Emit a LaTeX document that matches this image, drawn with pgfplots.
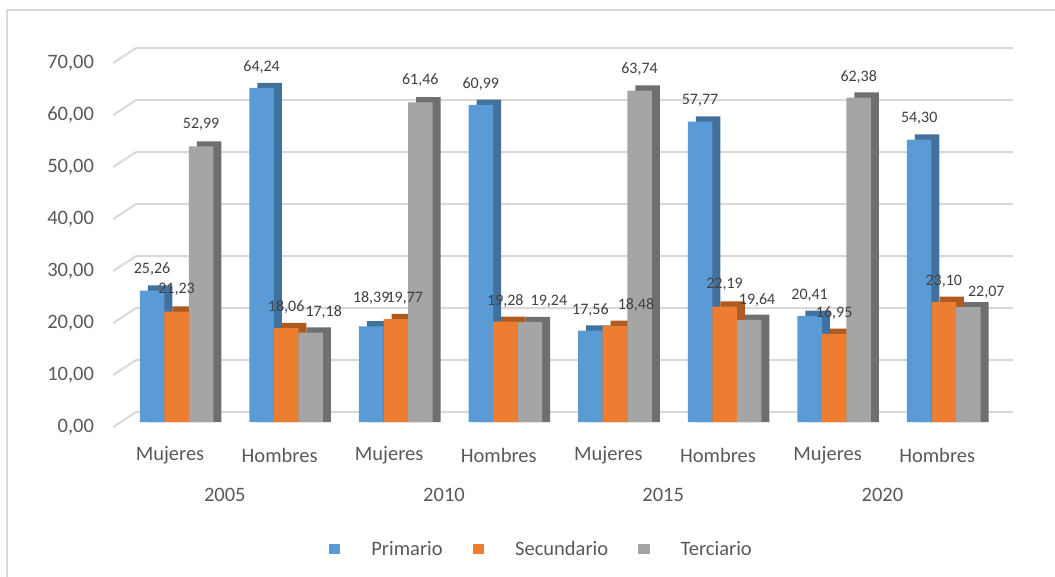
\documentclass[border=0pt]{standalone}
\usepackage{pgfplots}
\pgfplotsset{compat=1.18}
\usepackage{pgfplotstable}
\usepackage{fontspec}
\setmainfont{Carlito}
\definecolor{cP}{HTML}{5B9BD5}
\definecolor{cPd}{HTML}{41719C}
\definecolor{cS}{HTML}{ED7D31}
\definecolor{cSd}{HTML}{AE5A21}
\definecolor{cT}{HTML}{A5A5A5}
\definecolor{cTd}{HTML}{6F6F6F}
\definecolor{gridc}{HTML}{D9D9D9}
\definecolor{txt}{HTML}{595959}
\definecolor{lab}{HTML}{404040}

% values, plus label offsets (bp) for each series
\pgfplotstableread{
x P S T dxP dyP dxS dyS dxT dyT
0 25.26 21.23 52.99 0 22 0 22 0 22
1 64.24 18.06 17.18 0 21 0 21 13 21
2 18.39 19.77 61.46 0 28 9 21 0 22
3 60.99 19.28 19.24 0 21 0 21 19 21
4 17.56 18.48 63.74 0 21 21 21 0 21
5 57.77 22.19 19.64 0 21 0 22 8 20
6 20.41 16.95 62.38 0 21 0 21 0 21
7 54.30 23.10 22.07 0 21 0 21 18 15
}\datatable

\pgfplotsset{
  myleg/.style={legend image code/.code={\fill[##1] (0bp,-5bp) rectangle (11.5bp,5bp);}},
  front/.style={draw=none, nodes near coords={\pgfmathprintnumber[fixed,fixed zerofill,precision=2,use comma,assume math mode=true]{\pgfplotspointmeta}}, myleg},
  depth/.style={draw=none, forget plot},
}

\begin{document}
\begin{tikzpicture}
\useasboundingbox (0,0) rectangle (1055bp,577bp);
\draw[gridc, line width=1.5bp] (7bp,-20bp) -- (7bp,567bp) -- (1080bp,567bp);
\begin{axis}[
  at={(115.2bp,155bp)}, anchor=south west,
  scale only axis, width=876.8bp, height=364bp,
  xmin=-0.5, xmax=7.5, ymin=0, ymax=70,
  clip=false,
  axis line style={draw=none},
  major tick length=0pt,
  ytick={0,10,20,30,40,50,60,70},
  xtick={0,1,2,3,4,5,6,7},
  xticklabels={Mujeres,Hombres,Mujeres,Hombres,Mujeres,Hombres,Mujeres,Hombres},
  ticklabel style={font=\fontsize{20.5bp}{24bp}\selectfont, text=txt, inner sep=0pt},
  yticklabel style={anchor=east, xshift=-21bp, yshift=-5bp, /pgf/number format/.cd, fixed, fixed zerofill, precision=2, use comma, assume math mode=true},
  xticklabel style={anchor=center, yshift=-33bp},
  ybar, bar width=0.2235,
  every node near coord/.append style={font=\fontsize{16bp}{19bp}\selectfont, text=lab, anchor=center, inner sep=0pt, xshift=\ldx bp, yshift=\ldy bp},
  legend columns=3,
  legend style={at={(0.486,-0.350)}, anchor=center, draw=none, fill=none,
    font=\fontsize{20.5bp}{24bp}\selectfont, text=txt,
    /tikz/every odd column/.append style={column sep=29bp},
    /tikz/every even column/.append style={column sep=28bp}},
]
\pgfplotsinvokeforeach{0,10,20,30,40,50,60,70}{
  \draw[gridc, line width=2bp] ([xshift=-2bp,yshift=-5bp]axis cs:-0.5,#1) -- ([xshift=21bp,yshift=10bp]axis cs:-0.5,#1) -- ([xshift=21bp,yshift=10bp]axis cs:7.5,#1);
}
\addplot[depth, fill=cPd, bar shift=-0.091] table[x=x, y expr=\thisrow{P}+1.0] {\datatable};
\addplot[front, fill=cP, bar shift=-0.164,
  visualization depends on={\thisrow{dxP}\as\ldx},
  visualization depends on={\thisrow{dyP}\as\ldy}] table[x=x, y=P] {\datatable};
\addplot[depth, fill=cSd, bar shift=0.133] table[x=x, y expr=\thisrow{S}+1.0] {\datatable};
\addplot[front, fill=cS, bar shift=0.060,
  visualization depends on={\thisrow{dxS}\as\ldx},
  visualization depends on={\thisrow{dyS}\as\ldy}] table[x=x, y=S] {\datatable};
\addplot[depth, fill=cTd, bar shift=0.357] table[x=x, y expr=\thisrow{T}+1.0] {\datatable};
\addplot[front, fill=cT, bar shift=0.284,
  visualization depends on={\thisrow{dxT}\as\ldx},
  visualization depends on={\thisrow{dyT}\as\ldy}] table[x=x, y=T] {\datatable};
\legend{Primario, Secundario, Terciario}
\node[font=\fontsize{20.5bp}{24bp}\selectfont, text=txt] at ([yshift=-73bp]axis cs:0.5,0) {2005};
\node[font=\fontsize{20.5bp}{24bp}\selectfont, text=txt] at ([yshift=-73bp]axis cs:2.5,0) {2010};
\node[font=\fontsize{20.5bp}{24bp}\selectfont, text=txt] at ([yshift=-73bp]axis cs:4.5,0) {2015};
\node[font=\fontsize{20.5bp}{24bp}\selectfont, text=txt] at ([yshift=-73bp]axis cs:6.5,0) {2020};
\end{axis}
\end{tikzpicture}
\end{document}
